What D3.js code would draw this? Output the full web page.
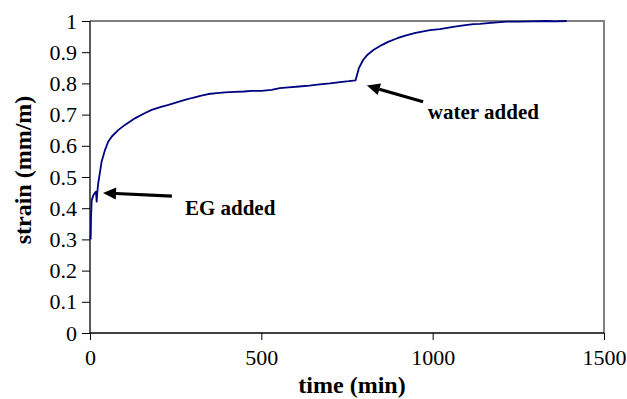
<!DOCTYPE html>
<html>
<head>
<meta charset="utf-8">
<script src="https://cdn.jsdelivr.net/npm/d3@7"></script>
<style>
  body { margin: 0; background: #fff; }
  svg { display: block; }
  .tick text { font-family: "Liberation Serif", "Times New Roman", serif; font-size: 22px; fill: #000; }
  .title { font-family: "Liberation Serif", "Times New Roman", serif; font-weight: bold; font-size: 24px; fill: #000; }
  .note { font-family: "Liberation Serif", "Times New Roman", serif; font-weight: bold; font-size: 21px; fill: #000; }
</style>
</head>
<body>
<svg id="chart" width="627" height="399"></svg>
<script>
// strain readings (min, mm/m)
const time = [2, 3, 5, 10, 15, 17.5, 19.5, 21, 24, 29, 34, 44, 53, 63, 83, 102, 131, 155, 180, 205,
  229, 255, 277, 300, 322, 345, 370, 394, 423, 450, 472, 500, 530, 554, 580, 610, 640, 670, 700, 730,
  755, 768, 775, 778, 785, 797, 810, 827, 850, 870, 895, 920, 950, 992, 1021, 1060, 1090, 1119, 1138, 1170,
  1216, 1250, 1290, 1330, 1360, 1391];
const strain = [0.300, 0.373, 0.426, 0.442, 0.450, 0.453, 0.421, 0.448, 0.480, 0.515, 0.550, 0.587, 0.613, 0.629, 0.651, 0.667, 0.688, 0.702, 0.715, 0.724,
  0.731, 0.740, 0.747, 0.754, 0.760, 0.766, 0.769, 0.771, 0.773, 0.774, 0.776, 0.776, 0.779, 0.785, 0.787, 0.790, 0.793, 0.797, 0.800, 0.804,
  0.807, 0.809, 0.810, 0.822, 0.850, 0.875, 0.892, 0.907, 0.922, 0.933, 0.944, 0.953, 0.962, 0.971, 0.974, 0.981, 0.986, 0.990, 0.991, 0.994,
  0.998, 0.998, 0.999, 1.0, 0.999, 1.0];

const xTicks = [0, 500, 1000, 1500];
const yTicks = [0, 0.1, 0.2, 0.3, 0.4, 0.5, 0.6, 0.7, 0.8, 0.9, 1];

// annotations: arrow tip, arrow tail, label position (data units)
const noteText = ["EG added", "water added"];
const noteTip = [[38, 0.449], [808, 0.793]];
const noteTail = [[239, 0.439], [972, 0.741]];
const noteLabel = [[277, 0.378], [986, 0.686]];

let svg = d3.select("#chart");
let margin = { top: 21, right: 23, bottom: 66, left: 90 };
let width = +svg.attr("width") - margin.left - margin.right;
let height = +svg.attr("height") - margin.top - margin.bottom;

let x = d3.scaleLinear().domain([0, 1500]).range([0, width]);
let y = d3.scaleLinear().domain([0, 1]).range([height, 0]);

let chart = svg.append("g").attr("transform", "translate(" + margin.left + "," + margin.top + ")");

// plot area border (top and right, grey)
chart.append("path")
  .attr("d", "M0,0H" + width + "V" + height)
  .attr("fill", "none")
  .attr("stroke", "#808080")
  .attr("stroke-width", 2);

// x-axis
let xAxis = chart.append("g")
  .attr("transform", "translate(0," + height + ")")
  .call(d3.axisBottom(x).tickValues(xTicks).tickSize(7).tickPadding(9).tickFormat(d3.format("d")));

// y-axis
let yAxis = chart.append("g")
  .call(d3.axisLeft(y).tickValues(yTicks).tickSize(8).tickPadding(5).tickFormat(d3.format("")));

[xAxis, yAxis].forEach(function (a) {
  a.attr("font-family", null).attr("font-size", null);
  a.select(".domain").attr("stroke", "#000").attr("stroke-width", 1.3);
  a.selectAll(".tick line").attr("stroke", "#000");
});
xAxis.select(".domain").attr("d", "M0,0H" + width);
yAxis.select(".domain").attr("d", "M0," + height + "V0");

// the strain curve
let line = d3.line()
  .x(function (d, i) { return x(time[i]); })
  .y(function (d) { return y(d); });

chart.append("path")
  .datum(strain)
  .attr("d", line)
  .attr("fill", "none")
  .attr("stroke", "#000080")
  .attr("stroke-width", 1.8)
  .attr("stroke-linejoin", "round");

// arrows and notes
noteText.forEach(function (t, i) {
  let x1 = x(noteTail[i][0]), y1 = y(noteTail[i][1]);
  let x2 = x(noteTip[i][0]), y2 = y(noteTip[i][1]);
  let ang = Math.atan2(y2 - y1, x2 - x1);
  let hl = 13, hw = 6;
  let bx = x2 - hl * Math.cos(ang), by = y2 - hl * Math.sin(ang);
  chart.append("line")
    .attr("x1", x1).attr("y1", y1)
    .attr("x2", bx).attr("y2", by)
    .attr("stroke", "#000")
    .attr("stroke-width", 3.2);
  chart.append("path")
    .attr("d", "M" + x2 + "," + y2 +
      "L" + (bx + hw * Math.sin(ang)) + "," + (by - hw * Math.cos(ang)) +
      "L" + (bx - hw * Math.sin(ang)) + "," + (by + hw * Math.cos(ang)) + "Z")
    .attr("fill", "#000");
  chart.append("text")
    .attr("class", "note")
    .attr("x", x(noteLabel[i][0]))
    .attr("y", y(noteLabel[i][1]))
    .text(t);
});

// axis titles
svg.append("text")
  .attr("class", "title")
  .attr("text-anchor", "middle")
  .attr("x", 352)
  .attr("y", 393)
  .text("time (min)");

svg.append("text")
  .attr("class", "title")
  .attr("text-anchor", "middle")
  .attr("transform", "translate(31,170) rotate(-90)")
  .text("strain (mm/m)");
</script>
</body>
</html>
